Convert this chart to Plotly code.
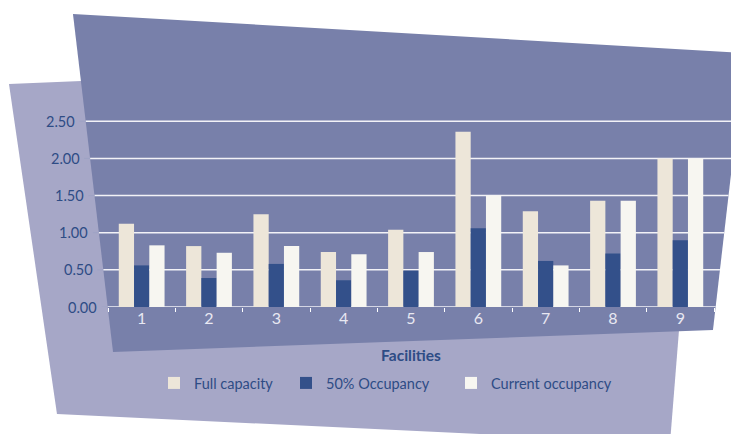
import plotly.graph_objects as go

# chart data
facilities = ["1", "2", "3", "4", "5", "6", "7", "8", "9"]
full_capacity = [1.12, 0.82, 1.25, 0.74, 1.04, 2.36, 1.29, 1.43, 2.00]
half_occupancy = [0.56, 0.39, 0.58, 0.36, 0.49, 1.06, 0.62, 0.72, 0.90]
current_occupancy = [0.83, 0.73, 0.82, 0.71, 0.74, 1.50, 0.56, 1.43, 2.00]
series_names = ["Full capacity", "50% Occupancy", "Current occupancy"]
y_ticks = [0, 0.5, 1.0, 1.5, 2.0, 2.5]
y_tick_labels = ["0.00", "0.50", "1.00", "1.50", "2.00", "2.50"]

# page geometry (pixels)
W, H = 731, 434
L, R, T, B = 108, 17, 99, 127
PW, PH = W - L - R, H - T - B
Y_MAX = 2.8

FONT = "Lato"
NAVY = "#2E4C85"
BAR_COLORS = ["#EDE6D9", "#33508A", "#F7F6F1"]
DARK_PANEL = "#7880AA"
LIGHT_PANEL = "#A6A7C7"


def paper_x(px):
    return (px - L) / PW


def paper_y(py):
    return (H - B - py) / PH


def value_to_py(v):
    return H - B - v / Y_MAX * PH


def _edge(p0, p1, py):
    (x0, y0), (x1, y1) = p0, p1
    return x0 + (x1 - x0) * (py - y0) / (y1 - y0)


# slanted background panels
DARK_PTS = [(73, 14), (745, 53), (713, 330), (113, 352)]
LIGHT_PTS = [(9, 84), (701, 55), (670, 443), (57, 414)]


def dark_left(py):
    return _edge(DARK_PTS[0], DARK_PTS[3], py)


def dark_right(py):
    return _edge(DARK_PTS[1], DARK_PTS[2], py)


def panel_path(pts):
    parts = [f"{paper_x(x):.4f},{paper_y(y):.4f}" for x, y in pts]
    return "M" + " L".join(parts) + " Z"


fig = go.Figure()

legend_keys = ["legend", "legend2", "legend3"]
for name, values, color, lg in zip(series_names,
                                    [full_capacity, half_occupancy, current_occupancy],
                                    BAR_COLORS, legend_keys):
    fig.add_trace(go.Bar(
        x=facilities, y=values, name=name, marker_color=color,
        marker_line_width=0, legend=lg, showlegend=True,
    ))

shapes = [
    dict(type="path", path=panel_path(LIGHT_PTS), xref="paper", yref="paper",
         fillcolor=LIGHT_PANEL, line_width=0, layer="below"),
    dict(type="path", path=panel_path(DARK_PTS), xref="paper", yref="paper",
         fillcolor=DARK_PANEL, line_width=0, layer="below"),
]

annotations = []
for v, label in zip(y_ticks, y_tick_labels):
    py = value_to_py(v)
    xl, xr = dark_left(py), dark_right(py)
    # gridline spanning the slanted panel
    shapes.append(dict(type="line", xref="paper", yref="y",
                       x0=paper_x(xl), x1=paper_x(xr), y0=v, y1=v,
                       line=dict(color="#F2F2F7", width=1.5), layer="below"))
    # small tick to the left
    shapes.append(dict(type="line", xref="paper", yref="y",
                       x0=paper_x(xl - 6), x1=paper_x(xl), y0=v, y1=v,
                       line=dict(color="#9EA3C4", width=1), layer="below"))
    annotations.append(dict(text=label, xref="paper", yref="y",
                            x=paper_x(xl - 8.5), y=v, xanchor="right",
                            yanchor="middle", showarrow=False,
                            font=dict(family=FONT, size=14.5, color=NAVY)))

fig.update_layout(
    width=W, height=H,
    margin=dict(l=L, r=R, t=T, b=B, autoexpand=False),
    paper_bgcolor="white",
    plot_bgcolor="rgba(0,0,0,0)",
    barmode="group", bargap=0.32, bargroupgap=0,
    showlegend=True,
    shapes=shapes,
    annotations=annotations,
    font=dict(family=FONT, size=14.5, color=NAVY),
)

# one legend per series so each entry sits where the reference has it
legend_text_px = [194, 326, 491]
for lg, tx in zip(legend_keys, legend_text_px):
    fig.update_layout({lg: dict(
        x=paper_x(tx - 40), y=paper_y(383), xanchor="left", yanchor="middle",
        orientation="h", bgcolor="rgba(0,0,0,0)", borderwidth=0,
        font=dict(family=FONT, size=14.5, color=NAVY),
    )})

fig.update_xaxes(
    type="category", showgrid=False, zeroline=False, showline=False,
    automargin=False,
    ticks="outside", tickson="boundaries", ticklen=4, tickcolor="white",
    tickfont=dict(family=FONT, size=16, color="#E8E8F2"),
    title=dict(text="<b>Facilities</b>", standoff=24,
               font=dict(family=FONT, size=15.5, color=NAVY)),
)
fig.update_yaxes(range=[0, Y_MAX], visible=False, automargin=False)

# drop the browser's default body margin so the figure sits at the page corner
fig.write_html("out.html", config={"displayModeBar": False},
               post_script="document.body.style.margin = '0';")
